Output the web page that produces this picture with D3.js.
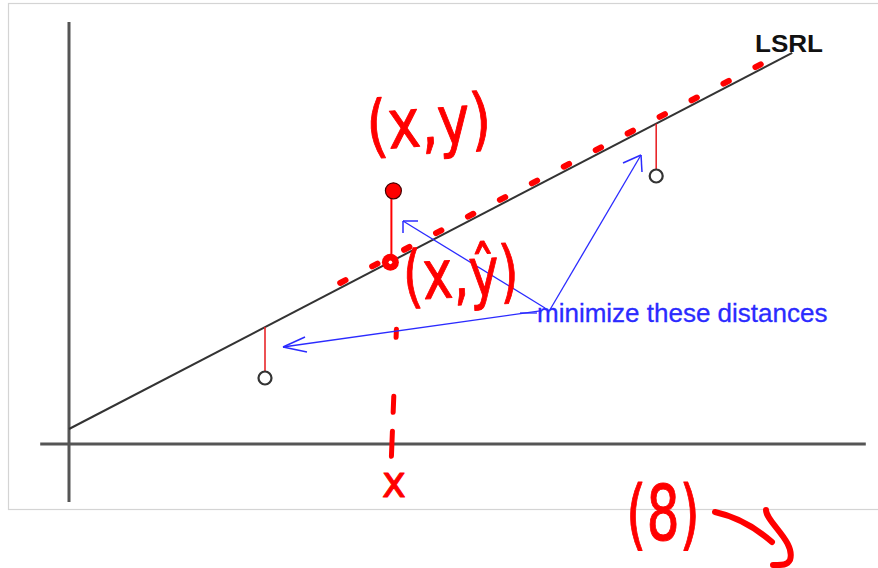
<!DOCTYPE html>
<html>
<head>
<meta charset="utf-8">
<script src="https://cdn.jsdelivr.net/npm/d3@7"></script>
<style>
  body { margin: 0; background: #fff; }
  svg { display: block; }
</style>
</head>
<body>
<div id="chart"></div>
<script>
var svgWidth = 878;
var svgHeight = 568;

// data (units of the sketch)
var pointX = [2.45, 7.34];
var pointY = [1.65, 6.70];
var highlightX = [4.03];
var highlightY = [6.33];
var lsrlIntercept = 0.375;
var lsrlSlope = 1.04;
var lsrlRange = [0, 9.04];
var extensionRange = [3.39, 8.76];
var labelText = "minimize these distances";
var labelPos = [5.85, 3.05];
// arrows: start and tip in data units
var arrowStart = [[5.95, 3.40], [5.89, 3.33], [6.01, 3.35]];
var arrowTip = [[4.175, 5.575], [2.675, 2.425], [7.15, 7.225]];

var svg = d3.select("#chart")
  .append("svg")
  .attr("width", svgWidth)
  .attr("height", svgHeight);

// x: 80px per unit, y: 40px per unit
var xScale = d3.scaleLinear().domain([0, 10]).range([69, 869]);
var yScale = d3.scaleLinear().domain([0, 10]).range([444, 44]);
var yHat = function(x) { return lsrlIntercept + lsrlSlope * x; };

// frame
svg.append("rect")
  .attr("x", 8.5).attr("y", 3.5)
  .attr("width", 900).attr("height", 506)
  .attr("fill", "none")
  .attr("stroke", "#d4d4d4")
  .attr("stroke-width", 1.2);

// axes (no ticks)
svg.append("line")
  .attr("x1", xScale(0)).attr("x2", xScale(0))
  .attr("y1", yScale(10.55)).attr("y2", yScale(-1.45))
  .attr("stroke", "#555").attr("stroke-width", 3);
svg.append("line")
  .attr("x1", xScale(-0.36)).attr("x2", xScale(9.96))
  .attr("y1", yScale(0)).attr("y2", yScale(0))
  .attr("stroke", "#555").attr("stroke-width", 3);

// LSRL
svg.append("line")
  .attr("x1", xScale(lsrlRange[0])).attr("y1", yScale(yHat(lsrlRange[0])))
  .attr("x2", xScale(lsrlRange[1])).attr("y2", yScale(yHat(lsrlRange[1])))
  .attr("stroke", "#333").attr("stroke-width", 2);

svg.append("text")
  .attr("x", 755).attr("y", 52)
  .attr("font-family", "Liberation Sans, Arial, sans-serif")
  .attr("font-weight", "bold")
  .attr("font-size", 24)
  .attr("textLength", 68)
  .attr("lengthAdjust", "spacingAndGlyphs")
  .attr("fill", "#111")
  .text("LSRL");

// hand-drawn red dotted extension just above the line
svg.append("line")
  .attr("x1", xScale(extensionRange[0])).attr("y1", yScale(yHat(extensionRange[0])) - 5)
  .attr("x2", xScale(extensionRange[1])).attr("y2", yScale(yHat(extensionRange[1])) - 5)
  .attr("stroke", "#f00").attr("stroke-width", 6)
  .attr("stroke-linecap", "round")
  .attr("stroke-dasharray", "6,30");

// residual segments and open points
var pts = pointX.map(function(x, i) { return {x: x, y: pointY[i]}; });
svg.selectAll(".resid")
  .data(pts)
  .enter().append("line")
  .attr("x1", d => xScale(d.x)).attr("x2", d => xScale(d.x))
  .attr("y1", d => yScale(yHat(d.x)))
  .attr("y2", d => yScale(d.y) + (d.y < yHat(d.x) ? -7 : 7))
  .attr("stroke", "#e8262a").attr("stroke-width", 1.6);
svg.selectAll(".pt")
  .data(pts)
  .enter().append("circle")
  .attr("cx", d => xScale(d.x))
  .attr("cy", d => yScale(d.y))
  .attr("r", 6.5)
  .attr("fill", "#fff")
  .attr("stroke", "#333")
  .attr("stroke-width", 2.2);

// highlighted point (x, y) and (x, y-hat)
var hx = highlightX[0], hy = highlightY[0];
svg.append("line")
  .attr("x1", xScale(hx)).attr("x2", xScale(hx))
  .attr("y1", yScale(hy)).attr("y2", yScale(yHat(hx)))
  .attr("stroke", "#f00").attr("stroke-width", 2);
svg.append("circle")
  .attr("cx", xScale(hx) + 2).attr("cy", yScale(hy))
  .attr("r", 8).attr("fill", "#f00")
  .attr("stroke", "#400").attr("stroke-width", 1.2);
svg.append("circle")
  .attr("cx", xScale(hx) - 1).attr("cy", yScale(yHat(hx)) + 1)
  .attr("r", 8.5).attr("fill", "#f00");
svg.append("circle")
  .attr("cx", xScale(hx) - 1).attr("cy", yScale(yHat(hx)) + 1)
  .attr("r", 1.8).attr("fill", "#fff");

// dashed drop line to the x axis
svg.append("line")
  .attr("x1", xScale(hx) + 5).attr("y1", yScale(yHat(hx)) + 68)
  .attr("x2", xScale(hx)).attr("y2", yScale(0) + 13)
  .attr("stroke", "#f00").attr("stroke-width", 5)
  .attr("stroke-linecap", "round")
  .attr("stroke-dasharray", "8,59,16,19,25,200");

// blue arrows
var blue = "#2b2bff";
var heads = [[[15, 0], [0, 12]], [[22, -10], [24, 5]], [[-18, 8], [1, 17]]];
arrowStart.forEach(function(s, i) {
  var tx = xScale(arrowTip[i][0]), ty = yScale(arrowTip[i][1]);
  svg.append("line")
    .attr("x1", xScale(s[0])).attr("y1", yScale(s[1]))
    .attr("x2", tx).attr("y2", ty)
    .attr("stroke", blue).attr("stroke-width", 1.3);
  heads[i].forEach(function(h) {
    svg.append("line")
      .attr("x1", tx).attr("y1", ty)
      .attr("x2", tx + h[0]).attr("y2", ty + h[1])
      .attr("stroke", blue).attr("stroke-width", 1.5);
  });
});
svg.append("line")
  .attr("x1", xScale(labelPos[0]) - 17).attr("y1", yScale(labelPos[1]) - 9)
  .attr("x2", xScale(labelPos[0])).attr("y2", yScale(labelPos[1]) - 9)
  .attr("stroke", blue).attr("stroke-width", 1.3);
svg.append("text")
  .attr("x", xScale(labelPos[0])).attr("y", yScale(labelPos[1]))
  .attr("font-family", "Liberation Sans, Arial, sans-serif")
  .attr("font-size", 26)
  .attr("fill", blue)
  .attr("stroke", blue)
  .attr("stroke-width", 0.3)
  .text(labelText);

// red handwritten notes
function note(txt, x, y, size, len, rot) {
  svg.append("text")
    .attr("x", x).attr("y", y)
    .attr("font-family", "DejaVu Sans, sans-serif")
    .attr("font-size", size)
    .attr("textLength", len)
    .attr("lengthAdjust", "spacingAndGlyphs")
    .attr("transform", "rotate(" + (rot || 0) + "," + x + "," + y + ")")
    .attr("fill", "#f00")
    .attr("stroke", "#f00")
    .attr("stroke-width", 1)
    .attr("stroke-linejoin", "round")
    .text(txt);
}
note("(x,y)", 368, 150, 68, 125, -4);
note("(x,ŷ)", 404, 300, 68, 116, -3);
note("x", 382, 497, 44, 24, 0);
note("(8)", 626, 540, 76, 74, 0);

// hand-drawn arrow after (8)
svg.append("path")
  .attr("d", "M715,512 C738,517 756,528 772,542")
  .attr("fill", "none").attr("stroke", "#f00")
  .attr("stroke-width", 6).attr("stroke-linecap", "round");
svg.append("path")
  .attr("d", "M766,510 C766,522 796,542 790,560 C787,566 780,565 773,565")
  .attr("fill", "none").attr("stroke", "#f00")
  .attr("stroke-width", 6).attr("stroke-linecap", "round")
  .attr("stroke-linejoin", "round");
</script>
</body>
</html>
